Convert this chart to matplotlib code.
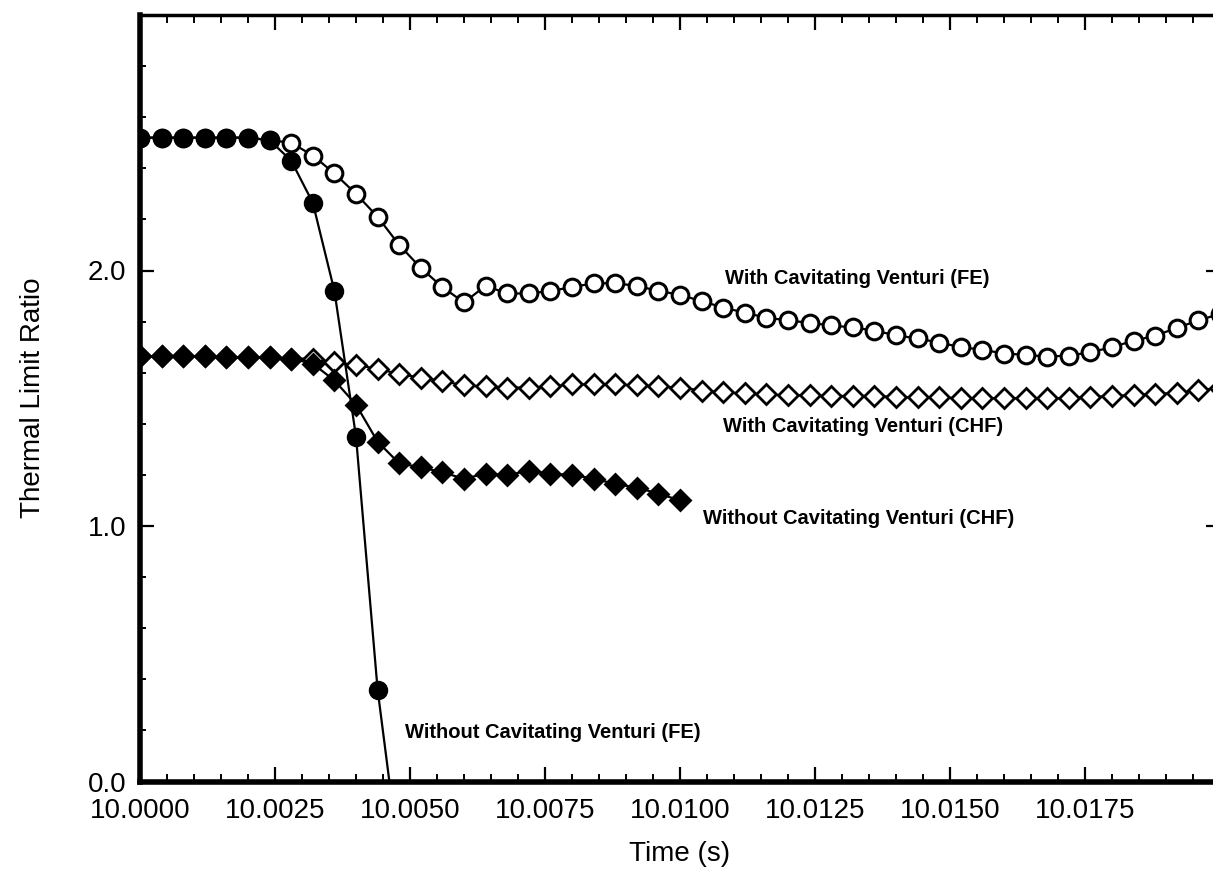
import matplotlib
matplotlib.use("Agg")
import matplotlib.pyplot as plt
from matplotlib.ticker import FixedLocator, MultipleLocator

# ---- data ----
time_s = [10.0000, 10.0004, 10.0008, 10.0012, 10.0016, 10.0020, 10.0024, 10.0028,
          10.0032, 10.0036, 10.0040, 10.0044, 10.0048, 10.0052, 10.0056, 10.0060,
          10.0064, 10.0068, 10.0072, 10.0076, 10.0080, 10.0084, 10.0088, 10.0092,
          10.0096, 10.0100, 10.0104, 10.0108, 10.0112, 10.0116, 10.0120, 10.0124,
          10.0128, 10.0132, 10.0136, 10.0140, 10.0144, 10.0148, 10.0152, 10.0156,
          10.0160, 10.0164, 10.0168, 10.0172, 10.0176, 10.0180, 10.0184, 10.0188,
          10.0192, 10.0196, 10.0200]

with_cv_fe = [2.52, 2.52, 2.52, 2.52, 2.52, 2.52, 2.51, 2.50, 2.45, 2.38,
              2.30, 2.21, 2.10, 2.01, 1.935, 1.875, 1.94, 1.91, 1.91, 1.92,
              1.935, 1.95, 1.95, 1.94, 1.92, 1.905, 1.88, 1.855, 1.835, 1.815,
              1.805, 1.795, 1.785, 1.777, 1.765, 1.746, 1.734, 1.718, 1.70, 1.69,
              1.675, 1.67, 1.663, 1.667, 1.68, 1.70, 1.725, 1.745, 1.775, 1.805,
              1.83]

with_cv_chf = [1.665, 1.665, 1.665, 1.665, 1.66, 1.66, 1.66, 1.655, 1.655, 1.64,
               1.63, 1.615, 1.595, 1.58, 1.568, 1.55, 1.546, 1.542, 1.542, 1.546,
               1.554, 1.554, 1.554, 1.55, 1.546, 1.542, 1.53, 1.523, 1.519, 1.515,
               1.511, 1.511, 1.509, 1.509, 1.509, 1.505, 1.503, 1.503, 1.50, 1.50,
               1.50, 1.50, 1.50, 1.50, 1.505, 1.509, 1.513, 1.517, 1.521, 1.532,
               1.54]

without_cv_chf = [1.665, 1.665, 1.665, 1.665, 1.66, 1.66, 1.66, 1.655, 1.635, 1.57,
                  1.475, 1.33, 1.245, 1.23, 1.21, 1.185, 1.205, 1.198, 1.217, 1.205,
                  1.20, 1.185, 1.165, 1.15, 1.127, 1.10]

without_cv_fe = [2.52, 2.52, 2.52, 2.52, 2.52, 2.52, 2.51, 2.43, 2.265, 1.92,
                 1.35, 0.36, -0.3]

x_tick_values = [10.0000, 10.0025, 10.0050, 10.0075, 10.0100, 10.0125, 10.0150, 10.0175]
x_tick_labels = ["10.0000", "10.0025", "10.0050", "10.0075", "10.0100",
                 "10.0125", "10.0150", "10.0175"]
y_tick_values = [0.0, 1.0, 2.0]
y_tick_labels = ["0.0", "1.0", "2.0"]

# ---- figure ----
plt.rcParams['font.family'] = ['Liberation Sans', 'DejaVu Sans']
W, H = 1213, 874
fig = plt.figure(figsize=(W / 100, H / 100), dpi=100)
left, right, bottom, top = 140 / W, 1220 / W, (H - 781.5) / H, (H - 15) / H
ax = fig.add_axes([left, bottom, right - left, top - bottom])

lw = 1.6
ax.plot(time_s[:len(with_cv_fe)], with_cv_fe, color='black', lw=lw, marker='o',
        ms=12, mfc='white', mec='black', mew=2.2, zorder=3)
ax.plot(time_s[:len(with_cv_chf)], with_cv_chf, color='black', lw=lw, marker='D',
        ms=10, mfc='white', mec='black', mew=2.0, zorder=3)
ax.plot(time_s[:len(without_cv_chf)], without_cv_chf, color='black', lw=lw, marker='D',
        ms=10, mfc='black', mec='black', mew=2.0, zorder=4)
ax.plot(time_s[:len(without_cv_fe)], without_cv_fe, color='black', lw=lw, marker='o',
        ms=12, mfc='black', mec='black', mew=2.0, zorder=5)

ax.set_xlim(10.0, 10.02)
ax.set_ylim(0.0, 3.0)

ax.xaxis.set_major_locator(FixedLocator(x_tick_values))
ax.set_xticklabels(x_tick_labels)
ax.xaxis.set_minor_locator(MultipleLocator(0.0005))
ax.yaxis.set_major_locator(FixedLocator(y_tick_values))
ax.set_yticklabels(y_tick_labels)
ax.yaxis.set_minor_locator(MultipleLocator(0.2))

ax.tick_params(axis='x', which='major', direction='in', length=11, width=1.6,
               top=True, bottom=True, labelsize=20, pad=12)
ax.tick_params(axis='x', which='minor', direction='in', length=6, width=1.4,
               top=True, bottom=True)
ax.tick_params(axis='y', which='major', direction='in', length=10, width=1.6,
               left=True, right=True, labelsize=20, pad=10)
ax.tick_params(axis='y', which='minor', direction='in', length=4.5, width=1.4,
               left=True, right=True)

for side, w in [('left', 4.0), ('bottom', 4.0), ('top', 2.5), ('right', 2.5)]:
    ax.spines[side].set_linewidth(w)

ax.set_xlabel("Time (s)", fontsize=20, labelpad=12)
ax.set_ylabel("Thermal Limit Ratio", fontsize=20, labelpad=30)

tfs = 14.5
ax.text(10.01083, 1.970, "With Cavitating Venturi (FE)", fontsize=tfs,
        fontweight='bold', ha='left', va='center')
ax.text(10.01080, 1.388, "With Cavitating Venturi (CHF)", fontsize=tfs,
        fontweight='bold', ha='left', va='center')
ax.text(10.01043, 1.029, "Without Cavitating Venturi (CHF)", fontsize=tfs,
        fontweight='bold', ha='left', va='center')
ax.text(10.00491, 0.193, "Without Cavitating Venturi (FE)", fontsize=tfs,
        fontweight='bold', ha='left', va='center')

fig.savefig("out.png", dpi=100)
